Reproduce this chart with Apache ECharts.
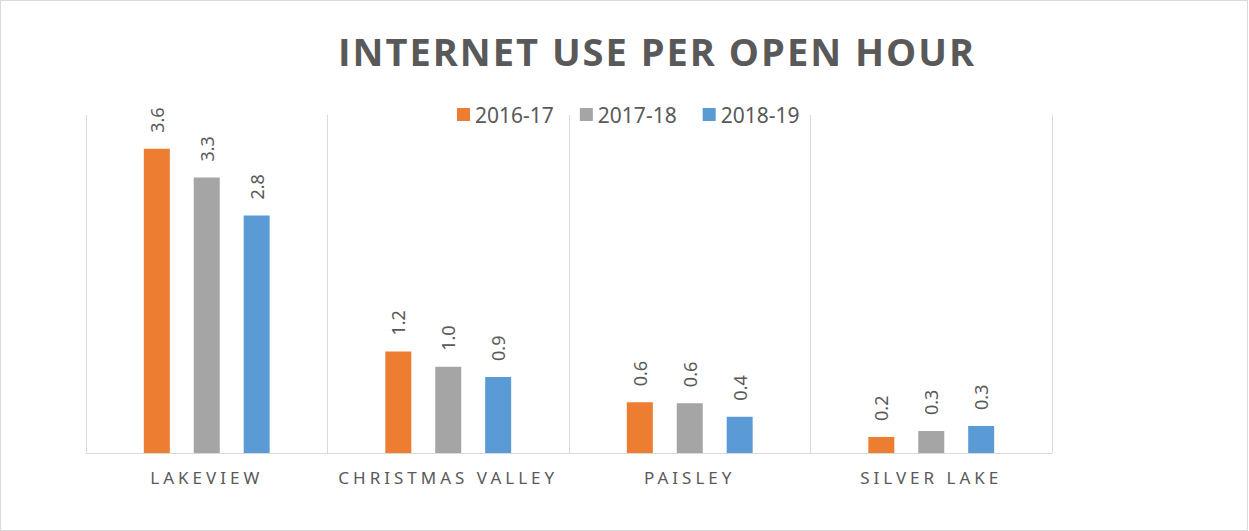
<!DOCTYPE html>
<html>
<head>
<meta charset="utf-8">
<script src="https://cdn.jsdelivr.net/npm/echarts@6/dist/echarts.min.js"></script>
<style>
body { margin: 0; background: #fff; }
#chart { width: 1246px; height: 529px; border: 1px solid #d9d9d9; }
/* svg text: spaced-out title and category labels */
#chart text[style*="38px"] { letter-spacing: 2px; }
#chart text[style*="17px"] { letter-spacing: 4px; }
</style>
</head>
<body>
<div id="chart"></div>
<script>
// data
const branches = ['LAKEVIEW', 'CHRISTMAS VALLEY', 'PAISLEY', 'SILVER LAKE']
const years = ['2016-17', '2017-18', '2018-19']
const use1617 = [3.60, 1.20, 0.60, 0.19]
const use1718 = [3.26, 1.02, 0.59, 0.26]
const use1819 = [2.81, 0.90, 0.43, 0.32]
const colors = ['#ED7D31', '#A5A5A5', '#5B9BD5']

const txt = '#595959'
const line = '#d9d9d9'

function barSeries(name, data, color) {
    return {
        name: name,
        type: 'bar',
        data: data,
        barWidth: 26,
        barGap: '92%',
        itemStyle: { color: color },
        label: {
            show: true,
            position: 'top',
            rotate: 90,
            align: 'left',
            verticalAlign: 'middle',
            distance: 16,
            color: txt,
            fontFamily: 'Noto Sans',
            fontSize: 18,
            formatter: p => p.value.toFixed(1)
        }
    }
}

const option = {
    animation: false,
    backgroundColor: '#fff',
    title: {
        text: 'INTERNET USE PER OPEN HOUR',
        left: 337,
        top: 31,
        padding: 0,
        textStyle: {
            fontFamily: 'Open Sans',
            fontWeight: 'bold',
            fontSize: 38,
            color: txt
        }
    },
    legend: {
        data: years,
        left: 456,
        top: 103,
        padding: 0,
        icon: 'rect',
        itemWidth: 13,
        itemHeight: 13,
        itemGap: 26,
        textStyle: { fontFamily: 'Noto Sans', fontSize: 21, color: txt }
    },
    grid: { left: 85, right: 195, top: 114, bottom: 77 },
    xAxis: {
        type: 'category',
        data: branches,
        axisLine: { lineStyle: { color: line, width: 1 } },
        axisTick: { show: false },
        splitLine: { show: true, lineStyle: { color: line, width: 1 } },
        axisLabel: { margin: 16, fontFamily: 'Noto Sans', fontSize: 17, color: txt }
    },
    yAxis: {
        type: 'value',
        min: 0,
        max: 4,
        show: false,
        splitLine: { show: false }
    },
    series: [
        barSeries(years[0], use1617, colors[0]),
        barSeries(years[1], use1718, colors[1]),
        barSeries(years[2], use1819, colors[2])
    ]
}

const chart = echarts.init(document.getElementById('chart'), null, { renderer: 'svg' })
chart.setOption(option)
</script>
</body>
</html>
